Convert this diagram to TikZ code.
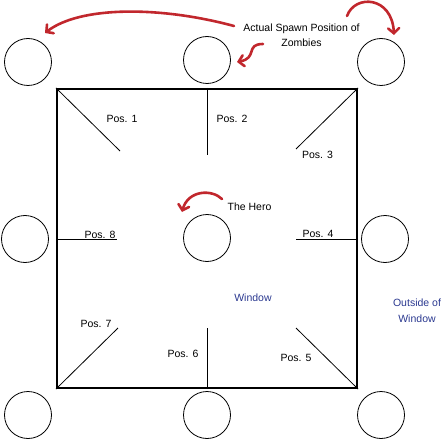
\documentclass[tikz,border=0pt]{standalone}
\usepackage{fontspec}
\setmainfont{Liberation Sans}
\usetikzlibrary{arrows.meta}
\definecolor{zred}{HTML}{C1272D}
\definecolor{wblue}{HTML}{2B3990}
\begin{document}
\begin{tikzpicture}[x=1pt,y=-1pt,
  spot/.style={circle,draw,line width=0.8pt,minimum size=47pt,inner sep=0pt},
  posline/.style={line width=0.8pt},
  lbl/.style={font=\fontsize{10.5}{15.5}\selectfont,inner sep=0pt},
  bluelbl/.style={lbl,text=wblue,align=center},
  redarrow/.style={draw=zred,line width=2.6pt,line cap=round,-{Straight Barb[length=5pt,width=11pt,line cap=round]}}]
\useasboundingbox (0,0) rectangle (447,441);
% window
\node[draw,line width=2pt,minimum width=300pt,minimum height=299pt,inner sep=0pt] (win) at (207,238.5) {};
% circles
\node[spot] (c1) at (28,62) {};
\node[spot] (c2) at (207,60) {};
\node[spot] (c3) at (381,62) {};
\node[spot] (c8) at (25,239) {};
\node[spot] (hero) at (207,238) {};
\node[spot] (c4) at (385,239) {};
\node[spot] (c7) at (28,415) {};
\node[spot] (c6) at (207,415) {};
\node[spot] (c5) at (381,415) {};
% position line ends
\coordinate (e1) at (120,151);
\coordinate (e2) at (207,155);
\coordinate (e3) at (296,149);
\coordinate (e4) at (296,239);
\coordinate (e8) at (117,239);
\coordinate (e7) at (118,328);
\coordinate (e6) at (207,328);
\coordinate (e5) at (296,328);
\coordinate (w4) at (win.east |- e4);
\coordinate (w8) at (win.west |- e8);
\draw[posline] (win.north west) -- (e1);
\draw[posline] (win.north) -- (e2);
\draw[posline] (win.north east) -- (e3);
\draw[posline] (w4) -- (e4);
\draw[posline] (w8) -- (e8);
\draw[posline] (win.south west) -- (e7);
\draw[posline] (win.south) -- (e6);
\draw[posline] (win.south east) -- (e5);
% labels
\node[lbl] (p1) at (122,119) {Pos. 1};
\node[lbl] (p2) at (232,119) {Pos. 2};
\node[lbl] (p3) at (317.5,155) {Pos. 3};
\node[lbl] (p4) at (318,234) {Pos. 4};
\node[lbl] (p8) at (100,235) {Pos. 8};
\node[lbl] (p7) at (96,324) {Pos. 7};
\node[lbl] (p6) at (183,354) {Pos. 6};
\node[lbl] (p5) at (296,358) {Pos. 5};
\node[lbl] (herolbl) at (249.5,207) {The Hero};
\node[bluelbl] (winlbl) at (253,298) {Window};
\node[bluelbl] (outlbl) at (417,310.5) {Outside of\\Window};
\node[lbl,align=center] (spawn) at (301.5,35) {Actual Spawn Position of\\Zombies};
% red arrow ends
\coordinate (s1) at (234,26);
\coordinate (t1) at (45,33);
\coordinate (s2) at (263,44);
\coordinate (t2) at (237,62);
\coordinate (s3) at (347,16);
\coordinate (t3) at (394,35);
\coordinate (s4) at (222,199);
\coordinate (t4) at (182,212);
\draw[redarrow] (s1) .. controls (160,6) and (80,6) .. (t1);
\draw[redarrow] (s2) .. controls (245,44) and (258,58) .. (t2);
\draw[redarrow] (s3) .. controls (355,-6) and (392,-4) .. (t3);
\draw[redarrow] (s4) .. controls (212,189) and (188,190) .. (t4);
\end{tikzpicture}
\end{document}
